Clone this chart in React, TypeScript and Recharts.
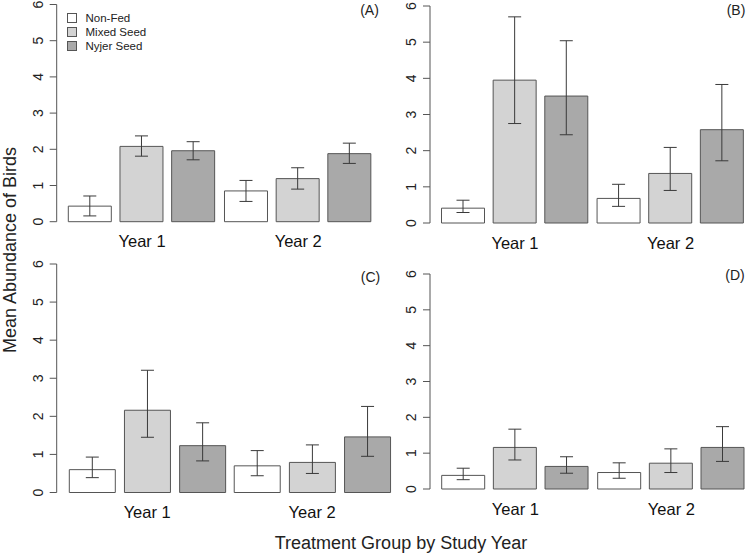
import React from 'react';
import { BarChart, Bar, XAxis, YAxis, ErrorBar, Legend } from 'recharts';

const years = ['Year 1', 'Year 2'];
const treatments = ['Non-Fed', 'Mixed Seed', 'Nyjer Seed'];
const yTicks = [0, 1, 2, 3, 4, 5, 6];

// each array: Year 1 (Non-Fed, Mixed, Nyjer), then Year 2 in the same order
const meanA = [0.43, 2.08, 1.96, 0.85, 1.19, 1.88];
const upperA = [0.71, 2.37, 2.21, 1.14, 1.49, 2.17];
const lowerA = [0.16, 1.81, 1.71, 0.56, 0.9, 1.61];

const meanB = [0.41, 3.95, 3.51, 0.68, 1.37, 2.58];
const upperB = [0.63, 5.7, 5.04, 1.07, 2.09, 3.83];
const lowerB = [0.29, 2.75, 2.44, 0.46, 0.9, 1.72];

const meanC = [0.6, 2.16, 1.23, 0.7, 0.79, 1.46];
const upperC = [0.93, 3.21, 1.83, 1.1, 1.25, 2.26];
const lowerC = [0.39, 1.45, 0.83, 0.44, 0.5, 0.95];

const meanD = [0.38, 1.16, 0.63, 0.46, 0.72, 1.16];
const upperD = [0.58, 1.67, 0.9, 0.73, 1.12, 1.74];
const lowerD = [0.26, 0.81, 0.44, 0.3, 0.46, 0.77];

const keys = ['nonFed', 'mixed', 'nyjer'];
const fills = ['#ffffff', '#d3d3d3', '#a9a9a9'];

const FONT = '"Liberation Sans", Arial, Helvetica, sans-serif';
const W = 760;
const H = 555;
const AXIS_W = 50;
const XAXIS_H = 40;

// rows for recharts; error values are [below, above] offsets from the mean
const buildRows = (mean: number[], upper: number[], lower: number[]) =>
  years.map((year, yi) => {
    const row: any = { year };
    keys.forEach((k, ti) => {
      const i = yi * 3 + ti;
      row[k] = mean[i];
      row[k + 'Err'] = [mean[i] - lower[i], upper[i] - mean[i]];
    });
    return row;
  });

const panels = [
  { tag: '(A)', rows: buildRows(meanA, upperA, lowerA), axisX: 56.7, top: 4.5, bottom: 221.7, first: 68.3, last: 372, tagX: 369.5, tagY: 10, legend: true },
  { tag: '(B)', rows: buildRows(meanB, upperB, lowerB), axisX: 430, top: 6, bottom: 223, first: 441.5, last: 744, tagX: 736, tagY: 10, legend: false },
  { tag: '(C)', rows: buildRows(meanC, upperC, lowerC), axisX: 56.7, top: 264, bottom: 492.5, first: 69.3, last: 390, tagX: 370.5, tagY: 277, legend: false },
  { tag: '(D)', rows: buildRows(meanD, upperD, lowerD), axisX: 430, top: 274, bottom: 489, first: 441.7, last: 745, tagX: 735, tagY: 275, legend: false },
];

// R-style y tick labels, rotated to run along the axis
const AxisTick = (props: any) => {
  const { x, y, payload } = props;
  const bx = x - 5;
  return (
    <text
      x={bx}
      y={y}
      transform={`rotate(-90, ${bx}, ${y})`}
      textAnchor="middle"
      fontSize={14}
      fontFamily={FONT}
      fill="#222"
    >
      {payload.value}
    </text>
  );
};

const TreatmentLegend = () => (
  <div style={{ fontFamily: FONT, fontSize: 11.5, color: '#222' }}>
    {treatments.map((t, i) => (
      <div key={t} style={{ display: 'flex', alignItems: 'center', height: 14 }}>
        <span
          style={{
            display: 'inline-block',
            width: 10,
            height: 10,
            boxSizing: 'border-box',
            border: '1px solid #555',
            background: fills[i],
            marginRight: 9,
          }}
        />
        {t}
      </div>
    ))}
  </div>
);

const Panel = ({ p }: { p: any }) => {
  const barW = (p.last - p.first) / 7;
  const gap = barW * 0.2;
  const padL = p.first - gap / 2 - p.axisX;
  const plotRight = p.axisX + padL + 7.2 * barW;
  const margin = {
    top: p.top,
    left: p.axisX - AXIS_W,
    right: W - plotRight,
    bottom: H - p.bottom - XAXIS_H,
  };
  return (
    <div style={{ position: 'absolute', left: 0, top: 0 }}>
      <BarChart width={W} height={H} data={p.rows} margin={margin} barGap={gap} barCategoryGap={gap / 2}>
        <XAxis
          dataKey="year"
          height={XAXIS_H}
          axisLine={false}
          tickLine={false}
          tickMargin={8}
          padding={{ left: padL, right: 0 }}
          tick={{ fontSize: 16.5, fill: '#111', fontFamily: FONT }}
        />
        <YAxis
          width={AXIS_W}
          domain={[0, 6]}
          ticks={yTicks}
          interval={0}
          tickSize={7}
          axisLine={{ stroke: '#555' }}
          tickLine={{ stroke: '#555' }}
          tick={<AxisTick />}
        />
        {keys.map((k, ti) => (
          <Bar key={k} dataKey={k} name={treatments[ti]} fill={fills[ti]} stroke="#555" strokeWidth={1} isAnimationActive={false}>
            <ErrorBar dataKey={k + 'Err'} width={6.5} stroke="#3a3a3a" strokeWidth={1} isAnimationActive={false} />
          </Bar>
        ))}
        {p.legend && (
          <Legend
            layout="vertical"
            align="center"
            verticalAlign="middle"
            content={<TreatmentLegend />}
            wrapperStyle={{ left: 66.5, top: 10.5, width: 120 }}
          />
        )}
      </BarChart>
      <div
        style={{
          position: 'absolute',
          left: p.tagX,
          top: p.tagY,
          transform: 'translate(-50%, -50%)',
          fontFamily: FONT,
          fontSize: 14,
          color: '#222',
          whiteSpace: 'nowrap',
        }}
      >
        {p.tag}
      </div>
    </div>
  );
};

export default function App() {
  return (
    <div
      style={{
        position: 'absolute',
        left: 0,
        top: 0,
        width: 746,
        height: 555,
        overflow: 'hidden',
        background: '#fff',
      }}
    >
      {panels.map((p) => (
        <Panel key={p.tag} p={p} />
      ))}
      <div
        style={{
          position: 'absolute',
          left: 10,
          top: 250,
          transform: 'translate(-50%, -50%) rotate(-90deg)',
          fontFamily: FONT,
          fontSize: 18,
          lineHeight: 1,
          color: '#222',
          whiteSpace: 'nowrap',
        }}
      >
        Mean Abundance of Birds
      </div>
      <div
        style={{
          position: 'absolute',
          left: 401,
          top: 543,
          transform: 'translate(-50%, -50%)',
          fontFamily: FONT,
          fontSize: 18,
          color: '#222',
          whiteSpace: 'nowrap',
        }}
      >
        Treatment Group by Study Year
      </div>
    </div>
  );
}
